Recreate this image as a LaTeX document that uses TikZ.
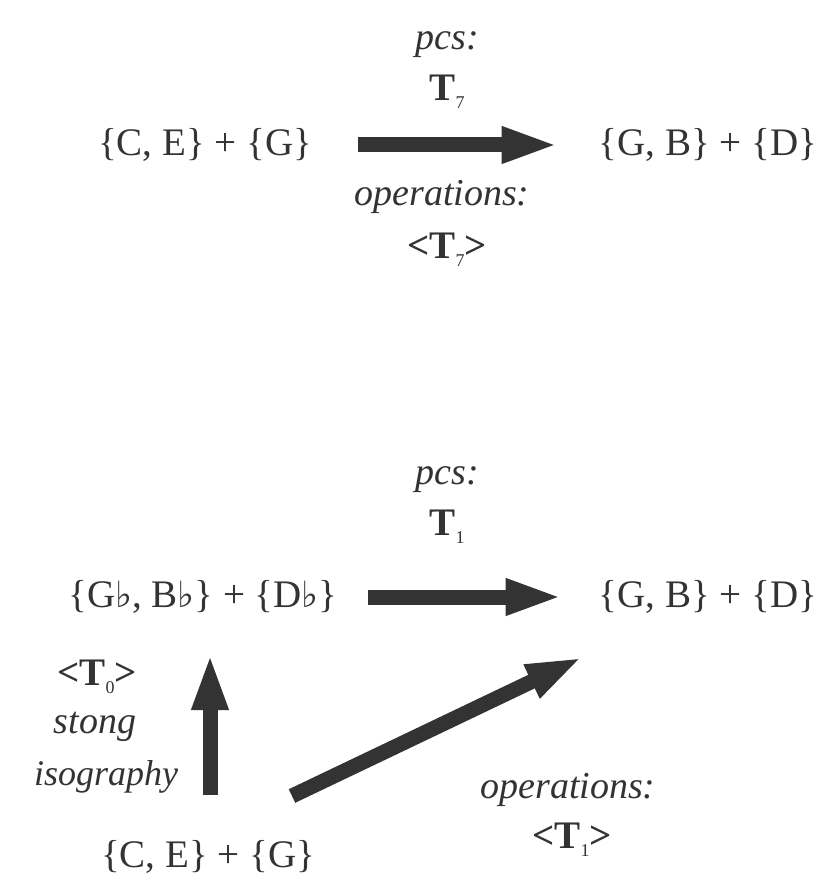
\documentclass[tikz,border=0pt]{standalone}
\usepackage{fontspec}
\setmainfont{Liberation Serif}
\newfontfamily\flatfont{DejaVu Serif}
\usetikzlibrary{arrows.meta}
\definecolor{ink}{HTML}{333333}
\newcommand{\fl}{{\flatfont\fontsize{36}{36}\selectfont ♭}}
\newcommand{\Tsub}[1]{\textbf{T}\raisebox{-0.45ex}{\fontsize{18}{18}\selectfont #1}}
\begin{document}
\begin{tikzpicture}[x=1pt,y=-1pt,
  every node/.style={text=ink,inner sep=0pt,font=\fontsize{39}{44}\selectfont},
  lab/.style={font=\fontsize{38}{44}\selectfont\itshape},
  bigarrow/.style={draw=ink,line width=15pt,-{Triangle[length=57pt,width=33pt]}}]
\useasboundingbox (0,0) rectangle (826,893);
% top
\node[lab] (pcs1) at (447,45) {pcs:};
\node (t7) at (447,92) {\Tsub{7}};
\node (ce1) at (205,145) {\{C, E\} + \{G\}};
\node (gb1) at (708,145) {\{G, B\} + \{D\}};
\node[lab] (op1) at (442,197) {operations:};
\node (ot7) at (447,250) {\textbf{<}\Tsub{7}\textbf{>}};
\draw[bigarrow,shorten <=46pt,shorten >=40pt] (ce1.east) -- (gb1.west);
% bottom
\node[lab] (pcs2) at (447,480) {pcs:};
\node (t1) at (447,527) {\Tsub{1}};
\node (gbf) at (203,597) {\{G\fl, B\fl\} + \{D\fl\}};
\node (gb2) at (708,597) {\{G, B\} + \{D\}};
\node (ot0) at (97,677) {\textbf{<}\Tsub{0}\textbf{>}};
\node[lab] (st) at (95,727) {stong};
\node[lab,font=\fontsize{36}{42}\selectfont\itshape] (iso) at (106,777) {isography};
\node[lab] (op2) at (568,790) {operations:};
\node (ot1) at (572,840) {\textbf{<}\Tsub{1}\textbf{>}};
\node (ce2) at (208,857) {\{C, E\} + \{G\}};
\draw[bigarrow,shorten <=30pt,shorten >=36pt] (gbf.east) -- (gb2.west);
\coordinate (v0) at (210,795);
\coordinate (v1) at (210,653);
\draw[bigarrow] (v0) -- (v1);
\coordinate (d0) at (292,796);
\coordinate (d1) at (583,657);
\draw[bigarrow] (d0) -- (d1);
\end{tikzpicture}
\end{document}
